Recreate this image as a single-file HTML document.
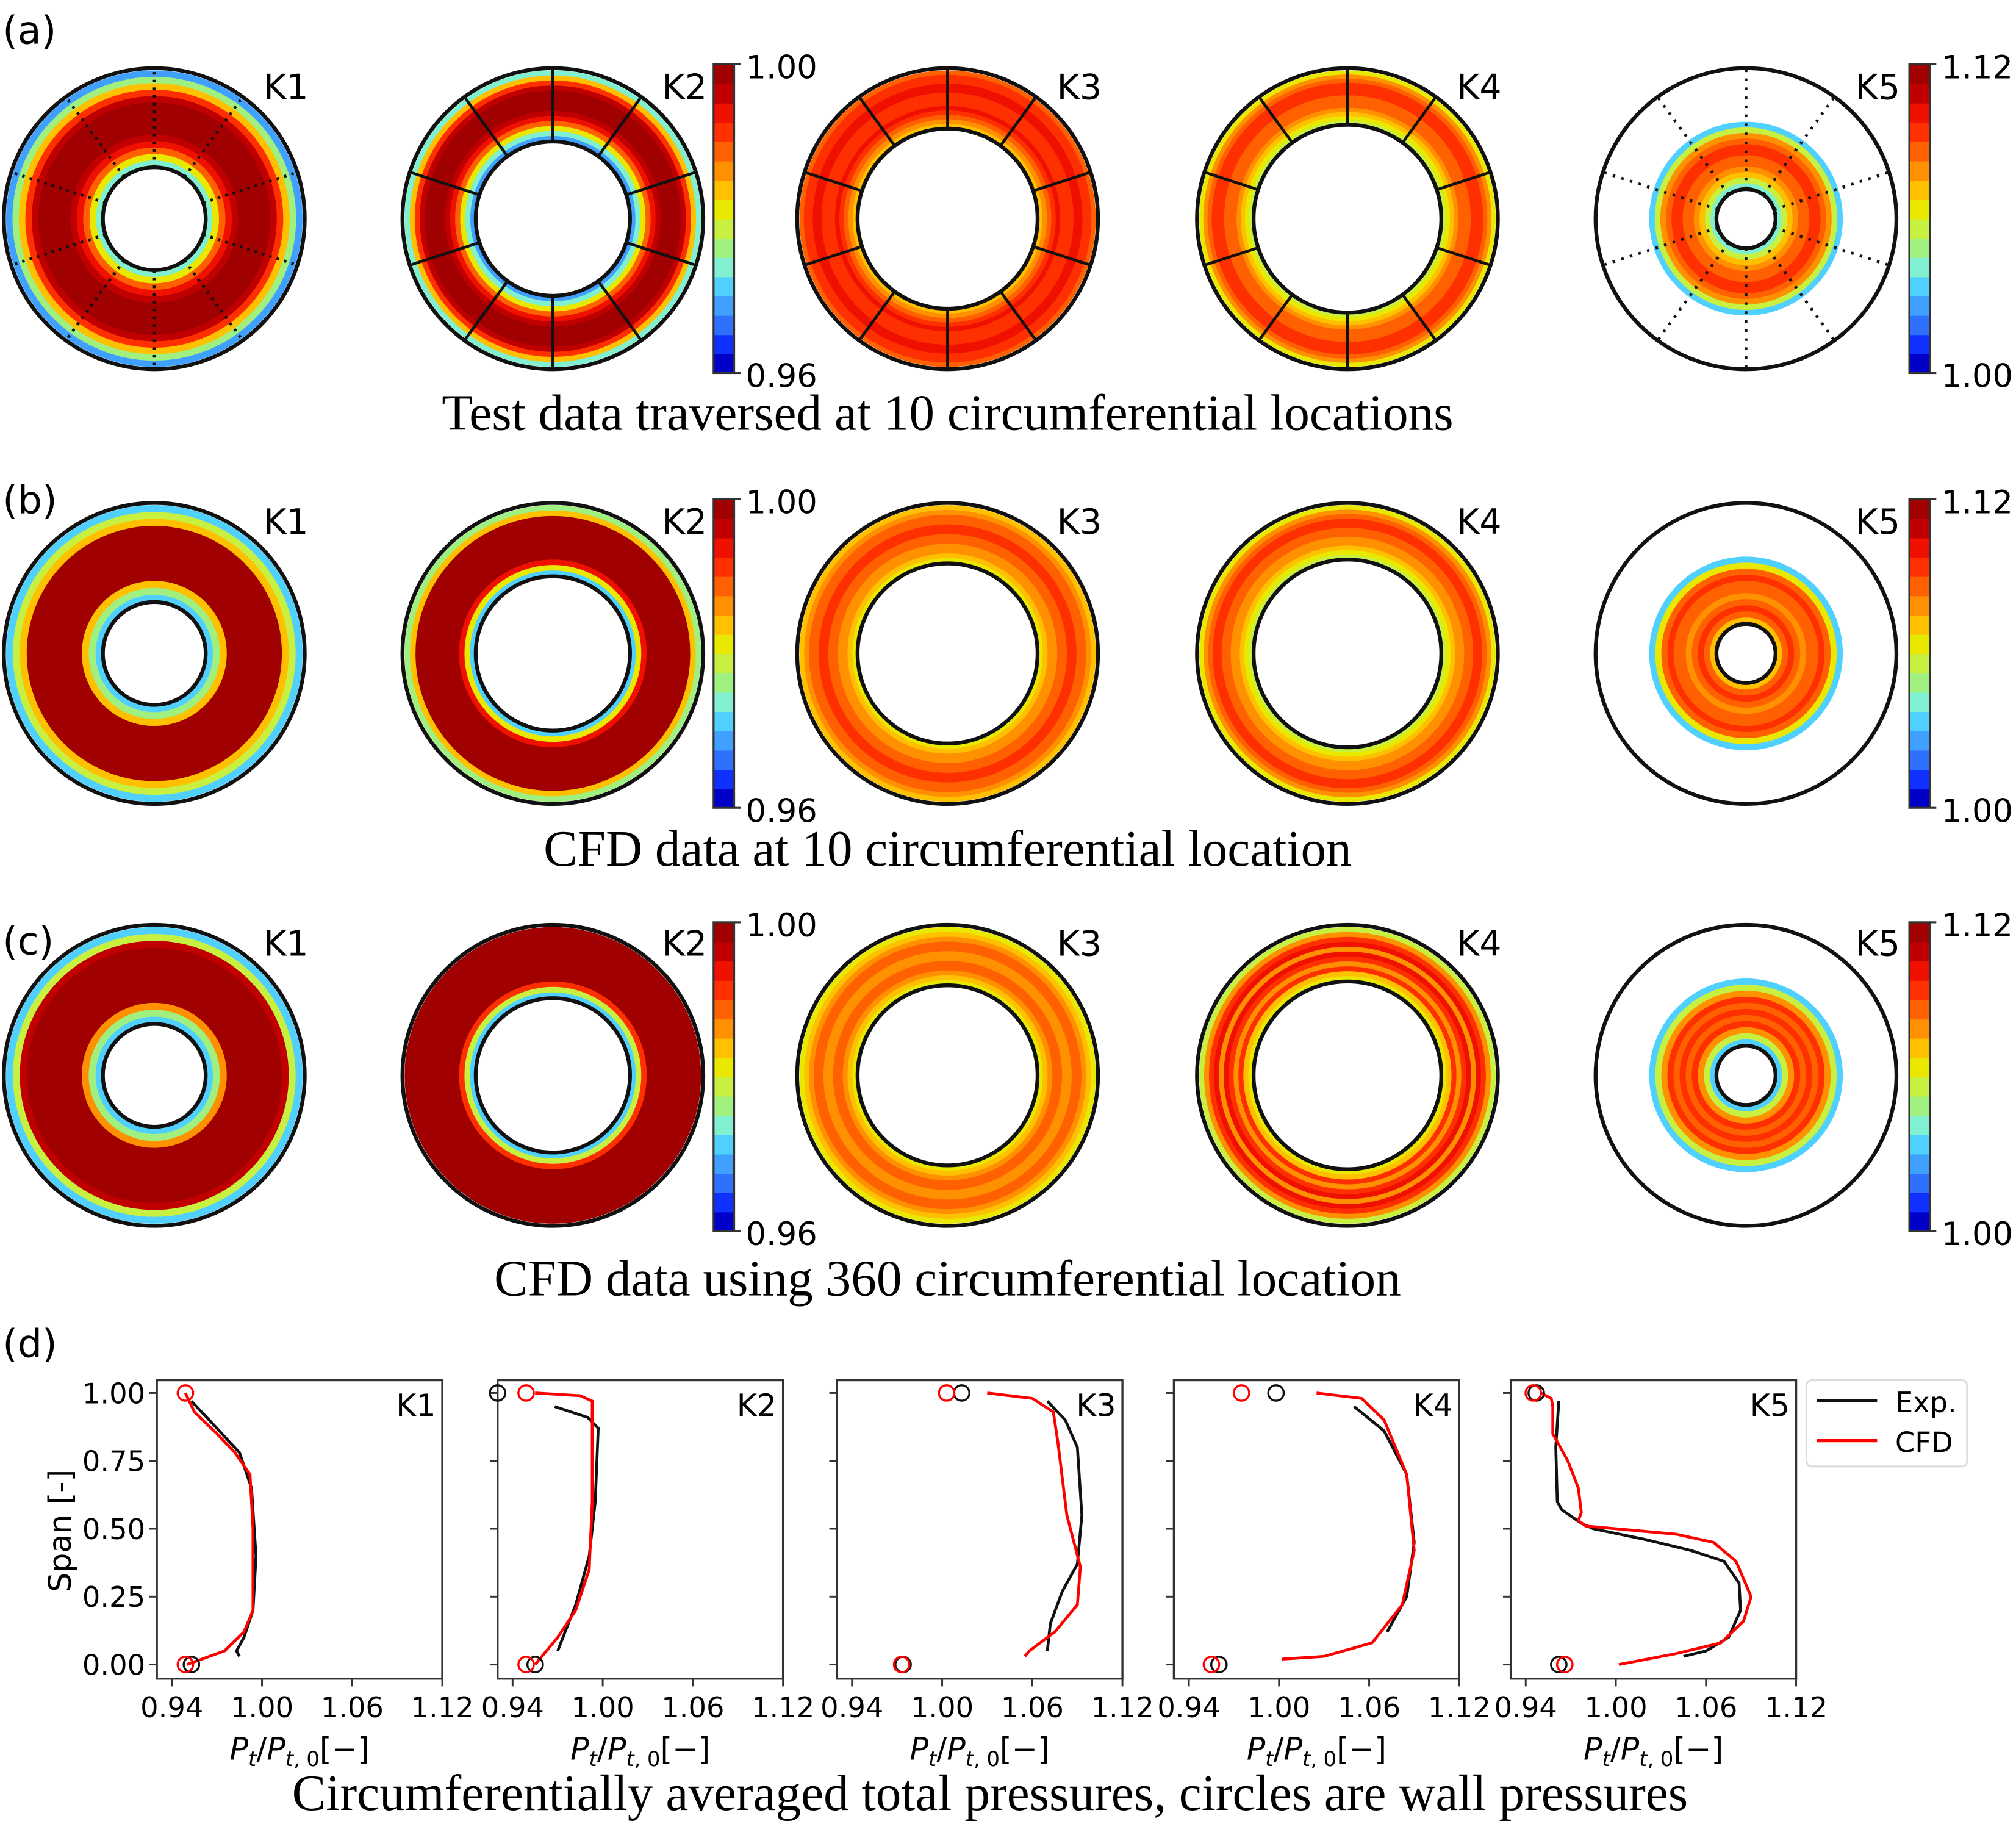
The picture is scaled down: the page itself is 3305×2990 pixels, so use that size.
<!DOCTYPE html>
<html><head><meta charset="utf-8"><style>
html,body{margin:0;padding:0;background:#fff;}
svg{display:block;}
.sans{font-family:"DejaVu Sans","Liberation Sans",sans-serif;}
.serif{font-family:"Liberation Serif",serif;}
</style></head><body>
<svg id="fig" width="3305" height="2990" viewBox="0 0 1568 1418" preserveAspectRatio="none" xmlns="http://www.w3.org/2000/svg">
<g id="contours"></g>
<g id="bars"></g>
<g id="plots"></g>
<g id="texts">
<text class="sans" x="2" y="34" font-size="30">(a)</text>
<text class="sans" x="2" y="399" font-size="30">(b)</text>
<text class="sans" x="2" y="742" font-size="30">(c)</text>
<text class="sans" x="2" y="1055" font-size="30">(d)</text>
<text class="serif" x="737" y="334" font-size="39.5" text-anchor="middle">Test data traversed at 10 circumferential locations</text>
<text class="serif" x="737" y="673" font-size="39.5" text-anchor="middle">CFD data at 10 circumferential location</text>
<text class="serif" x="737" y="1007" font-size="39.5" text-anchor="middle">CFD data using 360 circumferential location</text>
<text class="serif" x="770" y="1407" font-size="39.5" text-anchor="middle">Circumferentially averaged total pressures, circles are wall pressures</text>
</g>
</svg>
<script>
const NS='http://www.w3.org/2000/svg';
function mk(tag,attrs,parent){const e=document.createElementNS(NS,tag);for(const k in attrs)e.setAttribute(k,attrs[k]);parent.appendChild(e);return e;}
const jet=['#0000c8','#1030ff','#3070ff','#40a0ff','#50d0ff','#80f0d0','#a0f080','#c8f040','#e8e800','#ffc000','#ff9000','#ff6000','#ff3000','#f01000','#c00000','#a00000'];

// ---------- contour maps ----------
const rowY=[170,508,836];
const colX=[120,430,737,1048,1358];
const kLabels=['K1','K2','K3','K4','K5'];
const innerR=[[40,60,70,73,23],[40,60,70,73,23],[40,60,70,73,23]];
const dataOuterR=[[115,115,115,115,75],[115,115,115,115,75],[115,115,115,115,75]];
const bandSets=[
 [[3,6,9,12,14,15,15,15,15,15,14,13,11,8,5],[5,9,12,14,15,15,15,15,14,13,11,8,5,3],[11,12,12,13,13,12,12,12,13,12,11,10,9],[8,10,11,12,12,12,11,11,11,10,9,8,7],[4,7,10,11,12,12,11,11,10,9,7,5]],
 [[4,7,9,15,15,15,15,15,15,15,15,9,6,4],[6,9,15,15,15,15,15,15,15,15,13,8,4],[9,10,11,11,12,12,11,11,10,10,9,8],[8,10,11,12,12,11,11,10,10,9,8,7],[4,8,11,12,11,11,10,11,12,11,9]],
 [[4,7,14,15,15,15,15,15,15,15,15,10,6,4],[15,15,15,15,15,15,15,15,15,15,12,7,4],[8,9,10,11,11,10,10,11,11,10,9,8],[7,10,12,13,10,13,12,10,12,9,8],[4,7,10,12,11,12,11,12,10,7,4]]
];
const cg=document.getElementById('contours');
for(let r=0;r<3;r++){for(let c=0;c<5;c++){
 const g=mk('g',{},cg);
 
 
 const cx=colX[c],cy=rowY[r],ri=innerR[r][c],ro=dataOuterR[r][c];
 const bands=bandSets[r][c];const n=bands.length;const w=(ro-ri)/n;
 for(let i=0;i<n;i++){const rr=ro-w*i-w/2;mk('circle',{cx:cx,cy:cy,r:rr,fill:'none',stroke:jet[bands[i]],'stroke-width':w+0.6},g);}
 if(r===0&&c<4){
  for(let s=0;s<10;s++){const a=s*Math.PI/5;const x1=cx+ri*Math.sin(a),y1=cy-ri*Math.cos(a),x2=cx+117*Math.sin(a),y2=cy-117*Math.cos(a);
   mk('line',{x1:x1,y1:y1,x2:x2,y2:y2,stroke:'#111','stroke-width':2.2,'stroke-dasharray':c===0?'2 4':'none'},g);}
 }
 if(r===0&&c===4){
  for(let s=0;s<10;s++){const a=s*Math.PI/5;mk('line',{x1:cx+ri*Math.sin(a),y1:cy-ri*Math.cos(a),x2:cx+117*Math.sin(a),y2:cy-117*Math.cos(a),stroke:'#111','stroke-width':2.2,'stroke-dasharray':'2 5'},g);}
 }
 mk('circle',{cx:cx,cy:cy,r:117,fill:'none',stroke:'#111','stroke-width':3},g);
 mk('circle',{cx:cx,cy:cy,r:ri,fill:'#fff',stroke:'#111','stroke-width':3},g);
 const t=mk('text',{x:cx+85,y:cy-93,'font-size':27,'class':'sans'},g);t.textContent=kLabels[c];
 
 
}}

// ---------- colorbars ----------
const cbTicks=[['1.00','0.96'],['1.12','1.00']];
const cbX=[555,1485];const cbTop=[50,388,717];
const bg=document.getElementById('bars');
for(let r=0;r<3;r++)for(let k=0;k<2;k++){
 const g=mk('g',{},bg);
 
 
 const x=cbX[k],y=cbTop[r],h=240,n=jet.length;
 for(let i=0;i<n;i++)mk('rect',{x:x,y:y+h-(i+1)*h/n,width:16,height:h/n+0.5,fill:jet[i]},g);
 mk('rect',{x:x,y:y,width:16,height:h,fill:'none',stroke:'#333','stroke-width':1.5},g);
 mk('line',{x1:x+16,y1:y,x2:x+21,y2:y,stroke:'#333','stroke-width':1.5},g);
 mk('line',{x1:x+16,y1:y+h,x2:x+21,y2:y+h,stroke:'#333','stroke-width':1.5},g);
 const t1=mk('text',{x:x+25,y:y+11,'font-size':25,'class':'sans'},g);t1.textContent=cbTicks[k][0];
 const t2=mk('text',{x:x+25,y:y+h+11,'font-size':25,'class':'sans'},g);t2.textContent=cbTicks[k][1];
}

// ---------- line plots ----------
const xTickLabels=['0.94','1.00','1.06','1.12'];
const xTickVals=[0.94,1.00,1.06,1.12];
const yTickVals=[0,0.25,0.5,0.75,1.0];
const yTickLabels=['0.00','0.25','0.50','0.75','1.00'];
const expK1=[[0.953,0.97],[0.97,0.87],[0.985,0.78],[0.993,0.65],[0.996,0.4],[0.994,0.2],[0.988,0.1],[0.983,0.05],[0.985,0.03]];
const cfdK1=[[0.949,1.0],[0.955,0.93],[0.97,0.85],[0.982,0.78],[0.992,0.7],[0.994,0.5],[0.994,0.2],[0.988,0.12],[0.975,0.05],[0.95,0.0]];
const expK2=[[0.968,0.95],[0.99,0.91],[0.997,0.87],[0.995,0.6],[0.991,0.4],[0.982,0.22],[0.97,0.05]];
const cfdK2=[[0.955,1.0],[0.985,0.99],[0.993,0.97],[0.993,0.6],[0.991,0.35],[0.982,0.2],[0.97,0.1],[0.955,0.0]];
const expK3=[[1.07,0.97],[1.082,0.9],[1.09,0.8],[1.093,0.55],[1.09,0.37],[1.08,0.27],[1.072,0.15],[1.07,0.05]];
const cfdK3=[[1.03,1.0],[1.06,0.98],[1.074,0.93],[1.077,0.82],[1.083,0.55],[1.092,0.36],[1.09,0.22],[1.075,0.12],[1.058,0.05],[1.055,0.03]];
const expK4=[[1.05,0.95],[1.07,0.86],[1.085,0.7],[1.09,0.45],[1.085,0.25],[1.072,0.12]];
const cfdK4=[[1.025,1.0],[1.055,0.98],[1.07,0.9],[1.085,0.7],[1.09,0.42],[1.082,0.22],[1.062,0.08],[1.03,0.03],[1.002,0.02]];
const expK5=[[0.962,0.97],[0.96,0.8],[0.961,0.6],[0.964,0.57],[0.977,0.52],[0.985,0.5],[1.02,0.46],[1.05,0.42],[1.072,0.38],[1.082,0.3],[1.083,0.2],[1.075,0.1],[1.06,0.05],[1.045,0.03]];
const cfdK5=[[0.95,1.0],[0.957,0.98],[0.958,0.95],[0.958,0.85],[0.968,0.75],[0.975,0.65],[0.977,0.56],[0.975,0.53],[0.98,0.51],[1.04,0.48],[1.065,0.45],[1.08,0.38],[1.09,0.25],[1.085,0.16],[1.07,0.08],[1.04,0.04],[1.002,0.0]];
const expSeries=[expK1,expK2,expK3,expK4,expK5];
const cfdSeries=[cfdK1,cfdK2,cfdK3,cfdK4,cfdK5];
const expWall=[[[0.953,0.0]],[[0.93,1.0],[0.955,0.0]],[[1.013,1.0],[0.974,0.0]],[[0.998,1.0],[0.96,0.0]],[[0.947,1.0],[0.962,0.0]]];
const cfdWall=[[[0.949,1.0],[0.949,0.0]],[[0.949,1.0],[0.949,0.0]],[[1.003,1.0],[0.973,0.0]],[[0.975,1.0],[0.955,0.0]],[[0.945,1.0],[0.966,0.0]]];
const frameX=[122,387,651,913,1175];
const frameW=222,frameTop=1073,frameH=232;
const xMin=0.93,xMax=1.12,yMin=-0.052,yMax=1.047;
const pg=document.getElementById('plots');
for(let p=0;p<5;p++){
 const fx=frameX[p];
 const X=v=>fx+(v-xMin)/(xMax-xMin)*frameW;
 const Y=v=>frameTop+(yMax-v)/(yMax-yMin)*frameH;
 const g=mk('g',{},pg);
 
 
 mk('rect',{x:fx,y:frameTop,width:frameW,height:frameH,fill:'#fff',stroke:'#333','stroke-width':1.6},g);
 xTickVals.forEach((v,i)=>{mk('line',{x1:X(v),y1:frameTop+frameH,x2:X(v),y2:frameTop+frameH+6,stroke:'#333','stroke-width':1.4},g);
  const t=mk('text',{x:X(v),y:frameTop+frameH+30,'font-size':22,'text-anchor':'middle','class':'sans'},g);t.textContent=xTickLabels[i];});
 yTickVals.forEach((v,i)=>{mk('line',{x1:fx-6,y1:Y(v),x2:fx,y2:Y(v),stroke:'#333','stroke-width':1.4},g);
  if(p===0){const t=mk('text',{x:fx-9,y:Y(v)+8,'font-size':22,'text-anchor':'end','class':'sans'},g);t.textContent=yTickLabels[i];}});
 const kl=mk('text',{x:fx+frameW-5,y:frameTop+28,'font-size':24,'text-anchor':'end','class':'sans'},g);kl.textContent=kLabels[p];
 const e=mk('polyline',{points:expSeries[p].map(d=>X(d[0])+','+Y(d[1])).join(' '),fill:'none',stroke:'#111','stroke-width':2.2},g);
 
 
 const cl=mk('polyline',{points:cfdSeries[p].map(d=>X(d[0])+','+Y(d[1])).join(' '),fill:'none',stroke:'#f00','stroke-width':2.2},g);
 
 
 expWall[p].forEach(d=>{const c=mk('ellipse',{cx:X(d[0]),cy:Y(d[1]),rx:6,ry:6,fill:'none',stroke:'#111','stroke-width':1.6},g);
  
  });
 cfdWall[p].forEach(d=>{const c=mk('ellipse',{cx:X(d[0]),cy:Y(d[1]),rx:6,ry:6,fill:'none',stroke:'#f00','stroke-width':1.6},g);
  
  });
 const xl=mk('text',{x:fx+frameW/2,y:frameTop+frameH+63,'font-size':24,'text-anchor':'middle','class':'sans'},g);
 xl.innerHTML='<tspan font-style="italic">P</tspan><tspan font-size="16" dy="5" font-style="italic">t</tspan><tspan dy="-5">/</tspan><tspan font-style="italic">P</tspan><tspan font-size="16" dy="5"><tspan font-style="italic">t</tspan>, 0</tspan><tspan dy="-5">[−]</tspan>';
 
 
}
const yl=mk('text',{x:55,y:1190,'font-size':24,'text-anchor':'middle','class':'sans',transform:'rotate(-90 55 1190)'},pg);
yl.textContent='Span [-]';


const lg=mk('g',{},pg);


mk('rect',{x:1405,y:1073,width:125,height:67,rx:4,fill:'#fff',stroke:'#ddd','stroke-width':1.5},lg);
mk('line',{x1:1413,y1:1089,x2:1460,y2:1089,stroke:'#111','stroke-width':2.5},lg);
mk('line',{x1:1413,y1:1120,x2:1460,y2:1120,stroke:'#f00','stroke-width':2.5},lg);
const l1=mk('text',{x:1474,y:1098,'font-size':22,'class':'sans'},lg);l1.textContent='Exp.';
const l2=mk('text',{x:1474,y:1129,'font-size':22,'class':'sans'},lg);l2.textContent='CFD';
</script>
</body></html>
